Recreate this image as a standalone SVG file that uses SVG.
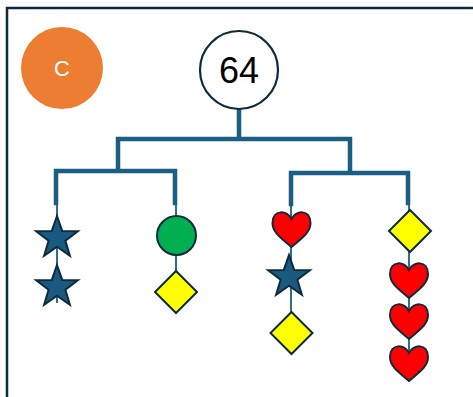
<svg xmlns="http://www.w3.org/2000/svg" width="473" height="397" viewBox="0 0 473 397">
<style>
.frame{fill:none;stroke:#0d2b3e;stroke-width:2.5}
.thick{fill:none;stroke:#1b5e83;stroke-width:4.5;stroke-linecap:square}
.thin{fill:none;stroke:#1b5e83;stroke-width:1.8}
.star{fill:#1b5a80;stroke:#0d2b3e;stroke-width:2;stroke-linejoin:miter}
.heart{fill:#ff0000;stroke:#0d2b3e;stroke-width:2}
.dia{fill:#ffff00;stroke:#0d2b3e;stroke-width:2}
.ball{fill:#00b050;stroke:#0d2b3e;stroke-width:2}
</style>
<defs>
<polygon id="star" points="0,-22 5.2,-7.1 20.9,-6.8 8.4,2.7 12.9,17.8 0,8.8 -12.9,17.8 -8.4,2.7 -20.9,-6.8 -5.2,-7.1"/>
<path id="heart" d="M0,-9 C-4,-18 -19,-19 -19,-5 C-19,5 -9,11 0,19 C9,11 19,5 19,-5 C19,-19 4,-18 0,-9 Z"/>
<polygon id="dia" points="0,-21 21,0 0,21 -21,0"/>
</defs>
<rect class="frame" x="7" y="8" width="480" height="400"/>
<g id="label-c">
<circle cx="62" cy="68" r="41" fill="#ed7d31"/>
<text x="62" y="76" font-family="Liberation Sans, Arial, sans-serif" font-size="22" fill="#ffffff" text-anchor="middle">C</text>
</g>
<g id="connectors">
<path class="thick" d="M239,109 V139 M118,139 H350 M118,139 V171 M56,171 H175 M56,171 V203 M175,171 V203 M350,139 V173 M291,173 H408 M291,173 V204 M408,173 V203"/>
<path class="thin" d="M57,203 V303 M176,203 V292 M291,204 V333 M409,203 V362"/>
</g>
<g id="root">
<circle cx="239" cy="70" r="39" fill="#ffffff" stroke="#0d2b3e" stroke-width="2.2"/>
<text x="239" y="83" font-family="Liberation Sans, Arial, sans-serif" font-size="36" fill="#000000" text-anchor="middle">64</text>
</g>
<g id="branch-1">
<use href="#star" class="star" x="57" y="238"/>
<use href="#star" class="star" x="57" y="287"/>
</g>
<g id="branch-2">
<circle class="ball" cx="176.5" cy="235.5" r="19.5"/>
<use href="#dia" class="dia" x="176" y="292"/>
</g>
<g id="branch-3">
<use href="#heart" class="heart" x="291.5" y="228"/>
<use href="#star" class="star" x="289" y="277"/>
<use href="#dia" class="dia" x="291.5" y="333"/>
</g>
<g id="branch-4">
<use href="#dia" class="dia" x="410" y="231"/>
<use href="#heart" class="heart" x="409" y="279"/>
<use href="#heart" class="heart" x="409" y="320"/>
<use href="#heart" class="heart" x="409" y="362"/>
</g>
</svg>
